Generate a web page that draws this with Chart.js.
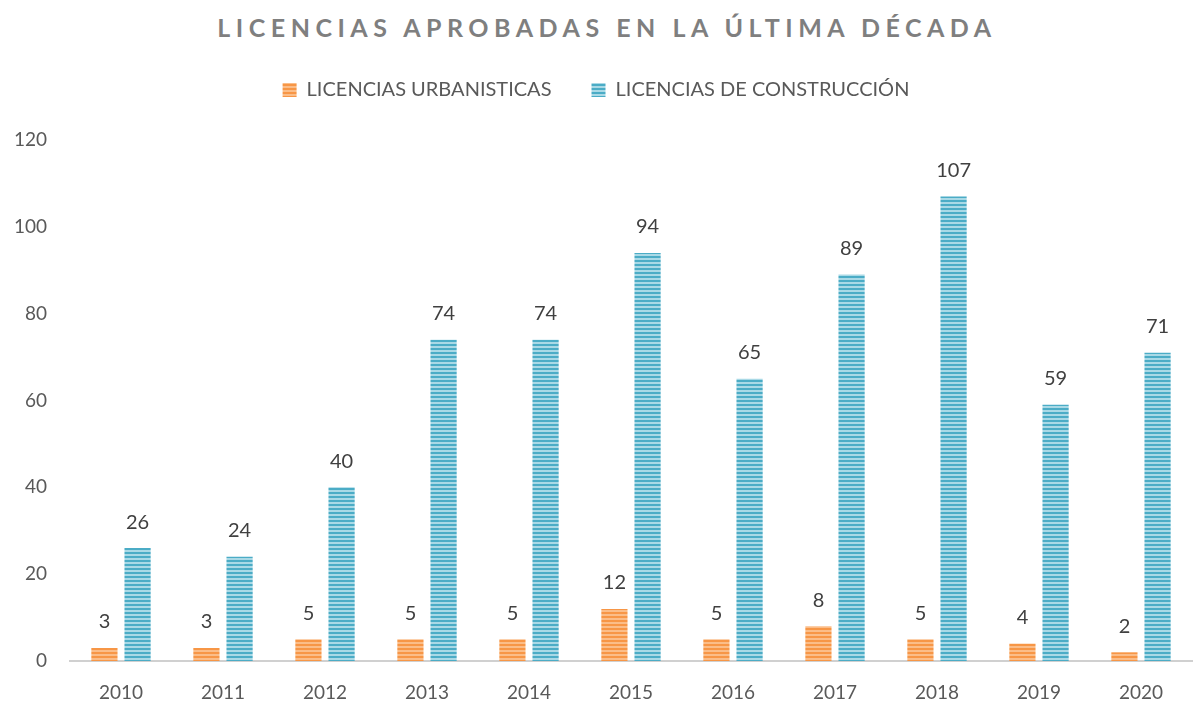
<!DOCTYPE html>
<html>
<head>
<meta charset="utf-8">
<script src="https://cdn.jsdelivr.net/npm/chart.js@4"></script>
<style>
  body { margin: 0; background: #fff; width: 1196px; height: 706px; overflow: hidden; }
  #title { height: 40px; padding-top: 7px; padding-left: 18px; box-sizing: border-box; line-height: 40px; text-align: center;
           font-family: Lato, sans-serif; font-weight: bold; font-size: 25px; letter-spacing: 5.5px; color: #7f7f7f; }
  #wrap { position: relative; width: 1196px; height: 666px; }
</style>
</head>
<body>
<div id="title">LICENCIAS APROBADAS EN LA ÚLTIMA DÉCADA</div>
<div id="wrap"><canvas id="chart" width="1196" height="666"></canvas></div>
<script>
const years = ["2010", "2011", "2012", "2013", "2014", "2015", "2016", "2017", "2018", "2019", "2020"];
const urbanisticas = [3, 3, 5, 5, 5, 12, 5, 8, 5, 4, 2];
const construccion = [26, 24, 40, 74, 74, 94, 65, 89, 107, 59, 71];
const yTicks = [0, 20, 40, 60, 80, 100, 120];

function stripes(dark, light) {
    const c = document.createElement("canvas");
    c.width = 4;
    c.height = 4;
    const g = c.getContext("2d");
    g.fillStyle = light;
    g.fillRect(0, 0, 4, 4);
    g.fillStyle = dark;
    g.fillRect(0, 0, 4, 2);
    return g.createPattern(c, "repeat");
}

const ctx = document.getElementById("chart").getContext("2d");
const orange = stripes("#f79646", "#fbbd88");
const blue = stripes("#4bacc6", "#a9d9e6");

const valueLabels = {
    id: "valueLabels",
    afterDatasetsDraw(chart) {
        const c = chart.ctx;
        c.save();
        c.font = "20px Lato, sans-serif";
        c.fillStyle = "#404040";
        c.textAlign = "center";
        c.textBaseline = "middle";
        chart.data.datasets.forEach((ds, i) => {
            chart.getDatasetMeta(i).data.forEach((bar, j) => {
                c.fillText(ds.data[j], bar.x, bar.y - 26);
            });
        });
        c.restore();
    },
};

// leave extra room under the legend
const legendGap = {
    id: "legendGap",
    beforeInit(chart) {
        const fit = chart.legend.fit;
        chart.legend.fit = function () {
            fit.bind(chart.legend)();
            this.height += 30;
        };
    },
};

new Chart(ctx, {
    type: "bar",
    data: {
        labels: years,
        datasets: [
            {
                label: "LICENCIAS URBANISTICAS",
                data: urbanisticas,
                backgroundColor: orange,
                categoryPercentage: 0.65,
                barPercentage: 0.79,
            },
            {
                label: "LICENCIAS DE CONSTRUCCIÓN",
                data: construccion,
                backgroundColor: blue,
                categoryPercentage: 0.65,
                barPercentage: 0.79,
            },
        ],
    },
    options: {
        responsive: false,
        animation: false,
        layout: { padding: { left: 0, right: 4, top: 0, bottom: 0 } },
        scales: {
            x: {
                grid: { display: false, drawTicks: false },
                border: { color: "#d0d0d0", width: 2 },
                ticks: { color: "#595959", font: { family: "Lato, sans-serif", size: 19 }, padding: 20 },
                afterFit: (axis) => {
                    axis.height = 45;
                },
            },
            y: {
                min: 0,
                max: 120,
                grid: { display: false, drawTicks: false },
                border: { display: false },
                afterBuildTicks: (axis) => {
                    axis.ticks = yTicks.map((v) => ({ value: v }));
                },
                afterFit: (axis) => {
                    axis.width = 70;
                },
                ticks: { color: "#595959", font: { family: "Lato, sans-serif", size: 19 }, padding: 23 },
            },
        },
        plugins: {
            legend: {
                position: "top",
                labels: {
                    color: "#595959",
                    font: { family: "Lato, sans-serif", size: 20 },
                    boxWidth: 14,
                    boxHeight: 14,
                    padding: 40,
                },
            },
            tooltip: { enabled: false },
        },
    },
    plugins: [valueLabels, legendGap],
});
</script>
</body>
</html>
